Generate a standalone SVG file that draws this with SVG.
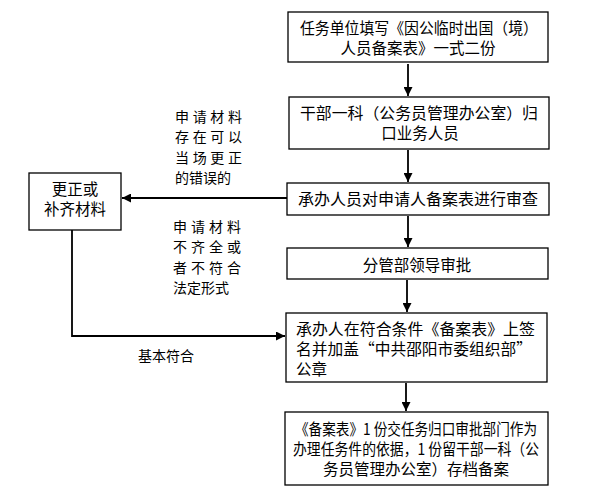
<svg xmlns="http://www.w3.org/2000/svg" width="592" height="494" viewBox="0 0 592 494">
<style>
.box{fill:#fff;stroke:#000;stroke-width:1.3}
.t{font-family:"Noto Sans CJK SC","Liberation Sans",sans-serif;font-size:15.5px;fill:#000}
.s{font-family:"Noto Sans CJK SC","Liberation Sans",sans-serif;font-size:14px;fill:#000}
.c{text-anchor:middle}
.ln{fill:none;stroke:#000;stroke-width:1.8}
</style>
<defs>
<marker id="ah" viewBox="0 0 10 10" refX="10" refY="5" markerWidth="5" markerHeight="5" orient="auto" markerUnits="strokeWidth">
<path d="M0,0 L10,5 L0,10 z" fill="#000"/>
</marker>
</defs>
<rect width="592" height="494" fill="#fff"/>
<g id="n1">
<rect class="box" x="288" y="12" width="260" height="50"/>
<text class="t" x="300" y="33.5" textLength="238" lengthAdjust="spacingAndGlyphs">任务单位填写《因公临时出国（境）</text>
<text class="t c" x="418" y="53.5">人员备案表》一式二份</text>
</g>
<g id="n2">
<rect class="box" x="289" y="97" width="260" height="52"/>
<text class="t" x="300" y="118.5" textLength="238" lengthAdjust="spacingAndGlyphs">干部一科（公务员管理办公室）归</text>
<text class="t c" x="420" y="138.5">口业务人员</text>
</g>
<g id="n3">
<rect class="box" x="287" y="183" width="262" height="32"/>
<text class="t" x="298" y="204.5" textLength="240" lengthAdjust="spacingAndGlyphs">承办人员对申请人备案表进行审查</text>
</g>
<g id="n4">
<rect class="box" x="287" y="248" width="261" height="31"/>
<text class="t c" x="417" y="270.5">分管部领导审批</text>
</g>
<g id="n5">
<rect class="box" x="286" y="313" width="261" height="69"/>
<text class="t" x="296" y="335" textLength="239" lengthAdjust="spacingAndGlyphs">承办人在符合条件《备案表》上签</text>
<text class="t" x="296" y="355" textLength="236" lengthAdjust="spacingAndGlyphs">名并加盖“中共邵阳市委组织部”</text>
<text class="t" x="296" y="375">公章</text>
</g>
<g id="n6">
<rect class="box" x="285" y="412" width="263" height="73"/>
<text class="t" x="295" y="434.5" textLength="242" lengthAdjust="spacingAndGlyphs">《备案表》1 份交任务归口审批部门作为</text>
<text class="t" x="293" y="454.5" textLength="246" lengthAdjust="spacingAndGlyphs">办理任务件的依据，1 份留干部一科（公</text>
<text class="t c" x="416" y="474.5">务员管理办公室）存档备案</text>
</g>
<g id="n7">
<rect class="box" x="29" y="173" width="92" height="57"/>
<text class="t c" x="75" y="194.5">更正或</text>
<text class="t c" x="75" y="214.5">补齐材料</text>
</g>
<g id="labels">
<text class="s" x="175" y="122" textLength="67" lengthAdjust="spacing">申请材料</text>
<text class="s" x="175" y="142" textLength="67" lengthAdjust="spacing">存在可以</text>
<text class="s" x="175" y="163" textLength="67" lengthAdjust="spacing">当场更正</text>
<text class="s" x="175" y="183">的错误的</text>
<text class="s" x="173" y="232" textLength="68" lengthAdjust="spacing">申请材料</text>
<text class="s" x="173" y="252" textLength="68" lengthAdjust="spacing">不齐全或</text>
<text class="s" x="173" y="273" textLength="68" lengthAdjust="spacing">者不符合</text>
<text class="s" x="173" y="293">法定形式</text>
<text class="s" x="138" y="361">基本符合</text>
</g>
<g id="connectors">
<line class="ln" x1="408" y1="64" x2="408" y2="96" marker-end="url(#ah)"/>
<line class="ln" x1="408" y1="150" x2="408" y2="182" marker-end="url(#ah)"/>
<line class="ln" x1="408" y1="216" x2="408" y2="247" marker-end="url(#ah)"/>
<line class="ln" x1="407" y1="280" x2="407" y2="312" marker-end="url(#ah)"/>
<line class="ln" x1="406" y1="383" x2="406" y2="411" marker-end="url(#ah)"/>
<line class="ln" x1="287" y1="198" x2="122" y2="198" marker-end="url(#ah)"/>
<polyline class="ln" points="72,230 72,336 285,336" marker-end="url(#ah)"/>
</g>
</svg>
